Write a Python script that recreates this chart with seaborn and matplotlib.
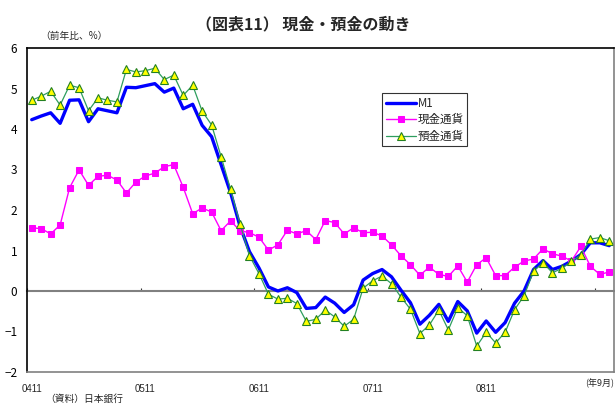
import numpy as np
import pandas as pd
import matplotlib
matplotlib.use("Agg")
import matplotlib.pyplot as plt
import seaborn as sns

# 2004年11月〜2009年12月、前年比(%)
months = pd.period_range("2004-11", periods=62, freq="M")
m1 = [4.23, 4.32, 4.40, 4.14, 4.71, 4.72, 4.18, 4.50, 4.45, 4.40,
      5.03, 5.02, 5.07, 5.12, 4.91, 5.01, 4.50, 4.61, 4.09, 3.81,
      3.12, 2.43, 1.60, 0.97, 0.57, 0.10, 0.00, 0.08, -0.04, -0.43,
      -0.41, -0.15, -0.30, -0.53, -0.34, 0.27, 0.43, 0.53, 0.35, 0.02,
      -0.29, -0.82, -0.60, -0.33, -0.75, -0.26, -0.49, -1.04, -0.74, -1.02,
      -0.78, -0.30, 0.00, 0.53, 0.75, 0.53, 0.61, 0.74, 0.90, 1.19,
      1.19, 1.12]
cash = [1.56, 1.54, 1.41, 1.63, 2.55, 2.99, 2.61, 2.83, 2.86, 2.74,
        2.42, 2.69, 2.84, 2.91, 3.07, 3.12, 2.56, 1.91, 2.05, 1.95,
        1.49, 1.73, 1.49, 1.44, 1.33, 1.01, 1.14, 1.50, 1.41, 1.49,
        1.27, 1.74, 1.69, 1.41, 1.56, 1.44, 1.45, 1.36, 1.14, 0.87,
        0.65, 0.39, 0.59, 0.41, 0.36, 0.62, 0.22, 0.65, 0.82, 0.38,
        0.38, 0.59, 0.74, 0.79, 1.04, 0.92, 0.86, 0.74, 1.10, 0.61,
        0.41, 0.47]
deposit = [4.71, 4.81, 4.93, 4.59, 5.08, 5.02, 4.45, 4.77, 4.71, 4.67,
           5.47, 5.41, 5.44, 5.50, 5.22, 5.33, 4.83, 5.08, 4.44, 4.10,
           3.32, 2.51, 1.66, 0.87, 0.43, -0.08, -0.20, -0.18, -0.31, -0.75,
           -0.70, -0.47, -0.64, -0.87, -0.70, 0.07, 0.25, 0.37, 0.18, -0.15,
           -0.45, -1.05, -0.84, -0.47, -0.96, -0.41, -0.61, -1.36, -1.02, -1.28,
           -1.02, -0.46, -0.12, 0.49, 0.70, 0.45, 0.56, 0.73, 0.89, 1.28,
           1.32, 1.24]
xlabels = ["0411", "0511", "0611", "0711", "0811"]
last_label = "(年9月)"

df = pd.DataFrame({"pos": np.arange(len(months)) + 0.5,
                   "M1": m1, "現金通貨": cash, "預金通貨": deposit})

sns.set_style("white")
plt.rcParams["font.family"] = ["Noto Sans CJK JP", "DejaVu Sans"]

fig = plt.figure(figsize=(6.15, 4.04), dpi=100)
ax = fig.add_axes([27 / 615, 1 - 372 / 404, 587 / 615, 324 / 404])

sns.lineplot(data=df, x="pos", y="M1", ax=ax, color="#0000FF", lw=2.4, label="M1")
sns.lineplot(data=df, x="pos", y="現金通貨", ax=ax, color="#FF00FF", lw=1,
             marker="s", markersize=4.5, markeredgecolor="#FF00FF", label="現金通貨")
sns.lineplot(data=df, x="pos", y="預金通貨", ax=ax, color="#2E9E5E", lw=0.9,
             marker="^", markersize=5.3, markerfacecolor="#FFFF00",
             markeredgecolor="#238023", markeredgewidth=0.8, label="預金通貨")

ax.set_xlim(0, len(months))
ax.set_ylim(-2, 6)
ax.set_xlabel("")
ax.set_ylabel("")

# 目盛り
ax.set_yticks(range(-2, 7))
ax.tick_params(axis="y", direction="in", length=3, labelsize=8.5, pad=7, colors="black")
ax.set_xticks(df["pos"].iloc[::12][:5])
ax.set_xticklabels(xlabels, family="Liberation Sans", fontsize=7)
ax.tick_params(axis="x", length=0, pad=9)
ax.text(len(months), -2.27, last_label, ha="right", va="center", fontsize=6.5)

# 0の軸線と目盛り
zero_ax = ax.secondary_xaxis(0.25)
zero_ax.set_xticks(range(0, len(months), 12))
zero_ax.set_xticklabels([])
zero_ax.tick_params(direction="in", length=2.5, width=0.8, colors="#333333")
zero_ax.spines["bottom"].set_color("#808080")
zero_ax.spines["bottom"].set_linewidth(1.5)

for side in ["left", "top"]:
    ax.spines[side].set_color("black")
    ax.spines[side].set_linewidth(1.2)
for side in ["right", "bottom"]:
    ax.spines[side].set_color("#808080")
    ax.spines[side].set_linewidth(1.2)

leg = ax.legend(loc="upper left", bbox_to_anchor=(0.605, 0.86), fontsize=8.3,
                frameon=True, fancybox=False, edgecolor="black",
                borderpad=0.3, labelspacing=0.3, handlelength=2.6,
                handletextpad=0.2, borderaxespad=0)
leg.get_frame().set_linewidth(0.8)

fig.text(303 / 615, 1 - 24 / 404, "（図表11） 現金・預金の動き", ha="center", va="center",
         fontsize=11.5, fontweight="bold")
fig.text(40 / 615, 1 - 36 / 404, "（前年比、%）", ha="left", va="center", fontsize=7)
fig.text(45 / 615, 1 - 399 / 404, "（資料）日本銀行", ha="left", va="center", fontsize=7)

fig.savefig("out.png", dpi=100)
